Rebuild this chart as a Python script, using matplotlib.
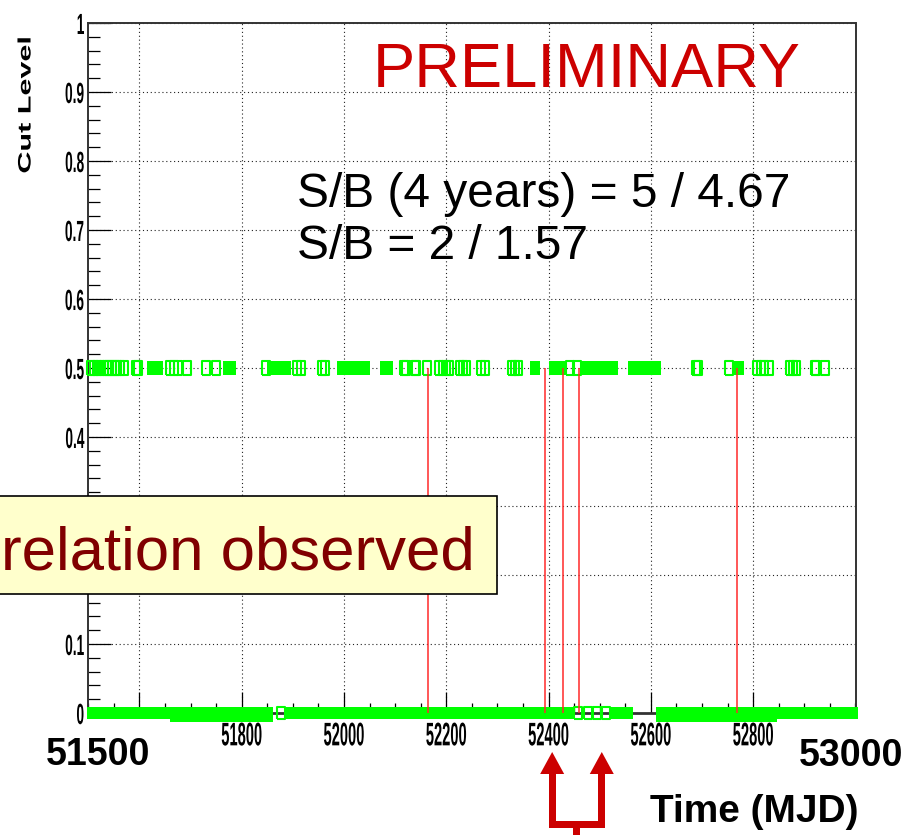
import numpy as np
import matplotlib
matplotlib.use('Agg')
import matplotlib.pyplot as plt
from matplotlib.patches import Rectangle, Polygon
from matplotlib.patheffects import AbstractPathEffect
from matplotlib.transforms import Affine2D
from matplotlib.ticker import MultipleLocator, FixedLocator, FuncFormatter

# runs passing at cut level 0.5 (MJD); dense stretches kept as blocks
hi_blocks = [(51614, 51647), (51763, 51788), (51850, 51896), (51986, 52050),
             (52070, 52096), (52364, 52383), (52400, 52433), (52462, 52536),
             (52556, 52620), (52758, 52783)]
hi_runs = [51505, 51512, 51518, 51524, 51530, 51536, 51541, 51547, 51552,
           51557, 51562, 51570, 51594, 51598,
           51660, 51667, 51675, 51693, 51731, 51749, 51848, 51909, 51916,
           51958, 51963, 52118, 52121, 52139, 52141, 52163, 52186, 52193,
           52199, 52206, 52226, 52232, 52238, 52267, 52276, 52329, 52335,
           52341, 52441, 52455, 52688, 52693, 52752, 52808, 52815, 52822,
           52830, 52872, 52878, 52884, 52921, 52923, 52941]

# runs at cut level 0
lo_blocks = [(51498, 51862), (51883, 52452), (52522, 52565), (52610, 53005)]
lo_blocks_low = [(51660, 51862), (52610, 52847)]
lo_runs = [51877, 52457, 52477, 52494, 52513]

# candidate events
event_mjd = [52165, 52393, 52428, 52459, 52768]
event_cut = 0.5
arrow_mjd = [52407, 52504]

x_major = [51600, 51800, 52000, 52200, 52400, 52600, 52800]
x_labels = ['', '51800', '52000', '52200', '52400', '52600', '52800']
y_hidden = [0.2, 0.3]   # labels sitting under the note box

W, H = 918, 835


def fx(x):
    return x / W


def fy(y):
    return 1 - y / H


class Squeeze(AbstractPathEffect):
    """Draw text narrower than the font, about its right edge or centre."""

    def __init__(self, sx, anchor='center'):
        super().__init__()
        self.sx = sx
        self.anchor = anchor

    def draw_path(self, renderer, gc, tpath, affine, rgbFace=None):
        ext = tpath.get_extents(affine)
        x0 = ext.x1 if self.anchor == 'right' else 0.5 * (ext.x0 + ext.x1)
        sq = Affine2D().translate(-x0, 0).scale(self.sx, 1).translate(x0, 0)
        renderer.draw_path(gc, tpath, affine + sq, rgbFace)


def ylabel_fmt(v, pos):
    if abs(v) < 1e-9:
        return '0'
    if abs(v - 1) < 1e-9:
        return '1'
    if any(abs(v - h) < 1e-9 for h in y_hidden):
        return ''
    return '%.1f' % v


plt.rcParams['font.family'] = ['Liberation Sans', 'DejaVu Sans']

fig = plt.figure(figsize=(W / 100, H / 100), dpi=100)
fig.patch.set_facecolor('white')
ax = fig.add_axes([fx(88.2), fy(713), (855.5 - 88.2) / W, (713 - 23) / H])

ax.set_xlim(51500, 53000)
ax.set_ylim(0, 1)

green = '#00ff00'
rect = [(-0.31, -0.5), (0.31, -0.5), (0.31, 0.5), (-0.31, 0.5), (-0.31, -0.5)]
hi_h = 0.019

ax.broken_barh([(a, b - a) for a, b in hi_blocks], (0.5 - hi_h / 2, hi_h),
               facecolors=green, edgecolors='none', zorder=3, clip_on=False)
ax.plot(hi_runs, [0.5] * len(hi_runs), ls='none', marker=rect, ms=9.5,
        mfc='none', mec=green, mew=1.5, zorder=3, clip_on=False)

ax.broken_barh([(a, b - a) for a, b in lo_blocks_low], (-0.0125, 0.01),
               facecolors=green, edgecolors='none', zorder=3, clip_on=False)
ax.broken_barh([(a, b - a) for a, b in lo_blocks], (-0.009, 0.018),
               facecolors=green, edgecolors='none', zorder=3, clip_on=False)
ax.plot(lo_runs, [0.0] * len(lo_runs), ls='none', marker=rect, ms=8.5,
        mfc='none', mec=green, mew=1.5, zorder=3, clip_on=False)

ax.vlines(event_mjd, 0, event_cut, colors='#ff2a2a', lw=1.1, zorder=4)

# axes, ticks and grid
for s in ax.spines.values():
    s.set_color('#333333')
    s.set_linewidth(1.4)
ax.spines['bottom'].set_linewidth(2.0)
ax.set_axisbelow(True)

ax.xaxis.set_major_locator(FixedLocator(x_major))
ax.set_xticklabels(x_labels)
ax.xaxis.set_minor_locator(MultipleLocator(50))
ax.yaxis.set_major_locator(MultipleLocator(0.1))
ax.yaxis.set_minor_locator(MultipleLocator(0.02))
ax.yaxis.set_major_formatter(FuncFormatter(ylabel_fmt))

ax.tick_params(axis='both', which='both', direction='in', top=False, right=False,
               color='black', width=0.9)
ax.tick_params(axis='x', which='major', length=15, pad=6, labelsize=23.5)
ax.tick_params(axis='x', which='minor', length=7)
ax.tick_params(axis='y', which='major', length=16.5, pad=2.5, labelsize=21)
ax.tick_params(axis='y', which='minor', length=8.5)
ax.grid(True, which='major', ls=(0, (1, 2.5)), color='#222222', lw=0.8)

for lbl in ax.get_xticklabels():
    lbl.set_fontweight('bold')
    lbl.set_path_effects([Squeeze(0.45)])
for lbl in ax.get_yticklabels():
    lbl.set_fontweight('bold')
    lbl.set_path_effects([Squeeze(0.47, 'right')])

fig.text(fx(27), fy(105), 'Cut Level', rotation=90, ha='center', va='center',
         fontsize=22, fontweight='bold', path_effects=[Squeeze(0.59)])

# slide annotations
fig.text(fx(373), fy(87), 'PRELIMINARY', color='#cc0000', fontsize=45.5,
         ha='left', va='baseline')
fig.text(fx(297), fy(207), 'S/B (4 years) = 5 / 4.67', color='black',
         fontsize=34.5, ha='left', va='baseline')
fig.text(fx(297), fy(259), 'S/B = 2 / 1.57', color='black',
         fontsize=34.5, ha='left', va='baseline')
fig.text(fx(98), fy(765), '51500', fontsize=27, fontweight='bold',
         ha='center', va='baseline')
fig.text(fx(851), fy(766), '53000', fontsize=27, fontweight='bold',
         ha='center', va='baseline')
fig.text(fx(650), fy(822), 'Time (MJD)', fontsize=28, fontweight='bold',
         ha='left', va='baseline')

box = Rectangle((fx(-3), fy(594)), fx(500), (594 - 495.5) / H,
                transform=fig.transFigure, facecolor='#ffffcc',
                edgecolor='black', lw=1.2, zorder=5)
fig.add_artist(box)
fig.text(fx(1), fy(570), 'relation observed', color='#800000', fontsize=44.5,
         ha='left', va='baseline', zorder=6)

# bracket with two arrows pointing at the event times
red = '#cc0000'
bx = [ax.transData.transform((m, 0))[0] for m in arrow_mjd]
shaft = 3.5
pieces = []
for x in bx:
    pieces.append([(x - 12, 774), (x, 752), (x + 12, 774)])
    pieces.append([(x - shaft, 772), (x + shaft, 772), (x + shaft, 828),
                   (x - shaft, 828)])
pieces.append([(bx[0] - shaft, 821), (bx[1] + shaft, 821),
               (bx[1] + shaft, 828), (bx[0] - shaft, 828)])
xm = 0.5 * (bx[0] + bx[1])
pieces.append([(xm - shaft, 825), (xm + shaft, 825), (xm + shaft, 840),
               (xm - shaft, 840)])
for pts in pieces:
    fig.add_artist(Polygon([(fx(px), fy(py)) for px, py in pts], closed=True,
                           transform=fig.transFigure, facecolor=red,
                           edgecolor='none', zorder=5))

fig.savefig('out.png', dpi=100)
